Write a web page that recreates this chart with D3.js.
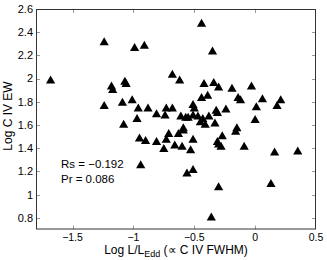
<!DOCTYPE html>
<html>
<head>
<meta charset="utf-8">
<script src="https://cdn.jsdelivr.net/npm/d3@7"></script>
<style>
  body { margin: 0; background: #fff; }
  svg { display: block; font-family: "Liberation Sans", Arial, sans-serif; }
</style>
</head>
<body>
<svg id="chart"></svg>
<script>
// Log L/L_Edd and Log C IV EW
const logEdd = [
  -1.68, -1.24, -0.99, -0.91, -0.44, -0.35, -0.68, -0.62, -1.07, -1.06,
  -1.18, -1.17, -1.24, -1.09, -1.01, -0.96, -0.88, -0.81, -0.97, -1.08,
  -0.42, -0.34, -0.30, -0.19, -0.03, -0.44, -0.39, -0.14, -0.12, 0.06,
  0.21, 0.18, 0.01, -0.24, -0.32, -0.31, -0.51, -0.50, -0.73, -0.68,
  -0.74, -0.61, -0.57, -0.55, -0.51, -0.47, -0.43, -0.38, -0.45, -0.41,
  -0.33, 0.00, -0.15, -0.16, -0.59, -0.27, -0.71, -0.73, -0.75, -0.63,
  -0.59, -0.66, -0.60, -0.53, -0.51, -0.31, -0.30, -0.28, -0.09, 0.16,
  0.35, -0.95, -0.90, -0.81, -0.94, -0.56, -0.51, -0.30, 0.13, -0.36
]
const logEW = [
  1.99, 2.32, 2.27, 2.29, 2.48, 2.24, 2.04, 1.99, 1.98, 1.96,
  1.94, 1.91, 1.77, 1.80, 1.82, 1.75, 1.75, 1.70, 1.66, 1.61,
  1.96, 1.97, 1.93, 1.92, 1.94, 1.84, 1.86, 1.84, 1.82, 1.83,
  1.82, 1.77, 1.76, 1.74, 1.73, 1.71, 1.78, 1.75, 1.75, 1.75,
  1.69, 1.68, 1.67, 1.67, 1.69, 1.68, 1.66, 1.68, 1.63, 1.61,
  1.62, 1.65, 1.58, 1.55, 1.58, 1.51, 1.53, 1.48, 1.40, 1.53,
  1.56, 1.43, 1.42, 1.39, 1.48, 1.46, 1.44, 1.42, 1.42, 1.37,
  1.38, 1.49, 1.47, 1.46, 1.26, 1.19, 1.22, 1.07, 1.10, 0.81
]
const xTicks = [-1.5, -1, -0.5, 0, 0.5]
const yTicks = [0.8, 1, 1.2, 1.4, 1.6, 1.8, 2, 2.2, 2.4, 2.6]
const statLines = ["Rs = \u22120.192", "Pr = 0.086"]

const width = 327
const height = 260
const padLeft = 36
const padRight = 316
const padTop = 9
const padBottom = 229.5
const tickLen = 4

const svg = d3.select("#chart").attr("width", width).attr("height", height)

const x = d3.scaleLinear().domain([-1.8, 0.5]).range([padLeft, padRight])
const y = d3.scaleLinear().domain([0.7, 2.6]).range([padBottom, padTop])

const fmt = (d) => (d < 0 ? "\u2212" : "") + Math.abs(d)

// ticks on all four sides, pointing inward
const ticks = svg.append("g").attr("stroke", "#999").attr("stroke-width", 1)
const xIn = xTicks.filter((d) => d < 0.5)
const yIn = yTicks.filter((d) => d < 2.6)
ticks.selectAll(".xb").data(xIn).join("line").attr("class", "xb")
  .attr("x1", (d) => Math.round(x(d)) + 0.5).attr("x2", (d) => Math.round(x(d)) + 0.5)
  .attr("y1", padBottom).attr("y2", padBottom - tickLen)
ticks.selectAll(".xt").data(xIn).join("line").attr("class", "xt")
  .attr("x1", (d) => Math.round(x(d)) + 0.5).attr("x2", (d) => Math.round(x(d)) + 0.5)
  .attr("y1", padTop).attr("y2", padTop + tickLen)
ticks.selectAll(".yl").data(yIn).join("line").attr("class", "yl")
  .attr("y1", (d) => Math.round(y(d)) + 0.5).attr("y2", (d) => Math.round(y(d)) + 0.5)
  .attr("x1", padLeft).attr("x2", padLeft + tickLen)
ticks.selectAll(".yr").data(yIn).join("line").attr("class", "yr")
  .attr("y1", (d) => Math.round(y(d)) + 0.5).attr("y2", (d) => Math.round(y(d)) + 0.5)
  .attr("x1", padRight).attr("x2", padRight - tickLen)

svg.append("rect")
  .attr("x", padLeft + 0.5).attr("y", padTop + 0.5)
  .attr("width", padRight - padLeft - 1).attr("height", padBottom - padTop - 1)
  .attr("fill", "none").attr("stroke", "#333")

// tick labels
svg.append("g").selectAll("text").data(xTicks).join("text")
  .attr("x", (d) => x(d)).attr("y", padBottom + 11.5)
  .attr("text-anchor", "middle").attr("font-size", 10.5).attr("fill", "#000")
  .text(fmt)
svg.append("g").selectAll("text").data(yTicks).join("text")
  .attr("x", padLeft - 3).attr("y", (d) => y(d)).attr("dy", "0.35em")
  .attr("text-anchor", "end").attr("font-size", 11).attr("fill", "#000")
  .text(fmt)

// axis titles
const xt = svg.append("text")
  .attr("x", (padLeft + padRight) / 2).attr("y", 254)
  .attr("text-anchor", "middle").attr("font-size", 12)
xt.append("tspan").text("Log L/L")
xt.append("tspan").attr("font-size", 9).attr("dy", 3).text("Edd")
xt.append("tspan").attr("dy", -3).text(" (\u221d C IV FWHM)")

svg.append("text")
  .attr("transform", `translate(12, 116) rotate(-90)`)
  .attr("text-anchor", "middle").attr("font-size", 12)
  .text("Log C IV EW")

// stats
svg.append("g").selectAll("text").data(statLines).join("text")
  .attr("x", 61).attr("y", (d, i) => 168 + i * 14.5)
  .attr("font-size", 11.5)
  .text((d) => d)

// triangles
const tri = "M0,-4.2L4.6,3.8L-4.6,3.8Z"
svg.append("g").selectAll("path").data(logEdd).join("path")
  .attr("d", tri)
  .attr("transform", (d, i) => `translate(${x(d)},${y(logEW[i])})`)
  .attr("fill", "#000")
</script>
</body>
</html>
